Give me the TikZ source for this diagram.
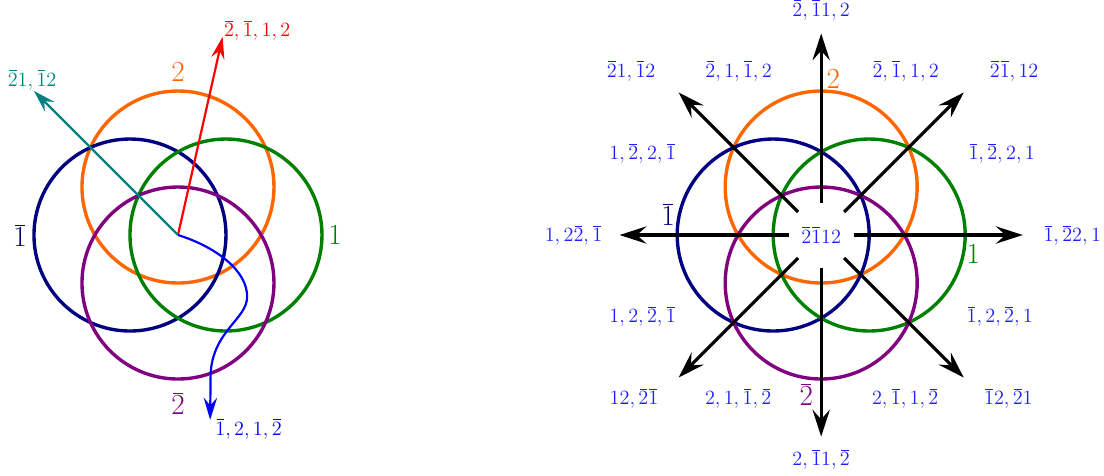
\documentclass[tikz,border=0pt]{standalone}
\usetikzlibrary{arrows.meta}
\definecolor{corange}{RGB}{255,102,0}
\definecolor{cnavy}{RGB}{0,0,128}
\definecolor{cgreen}{RGB}{0,128,0}
\definecolor{cpurple}{RGB}{128,0,128}
\definecolor{cteal}{RGB}{0,128,128}
\definecolor{cblue}{RGB}{30,30,255}
\newcommand{\ob}[1]{\mkern1mu\overline{\mkern-1mu#1\mkern-1mu}\mkern1mu}
\begin{document}
\begin{tikzpicture}[
		ring/.style={line width=2pt},
		ray/.style={line width=1.3pt,-{Stealth[length=4.6mm,width=2.8mm,inset=1.6mm]}},
		bigray/.style={line width=1.9pt,-{Stealth[length=5.6mm,width=3.6mm,inset=2mm]}},
		word/.style={font=\fontsize{11.5}{13}\selectfont,inner sep=1pt},
		tag/.style={font=\fontsize{16}{18}\selectfont,inner sep=1pt}]
	\useasboundingbox (-3.708,-5) rectangle (19.292,4.896);
	% left picture
	\coordinate (L) at (0,0);
	\draw[ring,corange] (0,1) circle (2);
	\draw[ring,cnavy] (-1,0) circle (2);
	\draw[ring,cgreen] (1,0) circle (2);
	\draw[ring,cpurple] (0,-1) circle (2);
	\node[tag,text=corange] (l2) at (0,3.4) {$2$};
	\node[tag,text=cnavy] (l1b) at (-3.29,0) {$\ob1$};
	\node[tag,text=cgreen] (l1) at (3.27,0) {$1$};
	\node[tag,text=cpurple] (l2b) at (0,-3.5) {$\ob2$};
	\coordinate (rtip) at (0.93,4.13);
	\coordinate (ttip) at (-3,3);
	\coordinate (btip) at (0.67,-3.85);
	\draw[ray,red] (L)--(rtip);
	\draw[ray,cteal] (L)--(ttip);
	\draw[ray,blue] (L) .. controls (0.8,-0.25) and (1.45,-0.75) .. (1.44,-1.29)
		.. controls (1.44,-1.75) and (0.72,-2.0) .. (0.68,-2.9) -- (btip);
	\node[word,text=red] (rw) at (1.65,4.27) {$\ob2,\ob1,1,2$};
	\node[word,text=cteal] (tw) at (-3.04,3.23) {$\ob21,\ob12$};
	\node[word,text=blue] (bw) at (1.47,-4.04) {$\ob1,2,1,\ob2$};
	% right picture
	\coordinate (R) at (13.4,0);
	\draw[ring,corange] (13.4,1) circle (2);
	\draw[ring,cnavy] (12.4,0) circle (2);
	\draw[ring,cgreen] (14.4,0) circle (2);
	\draw[ring,cpurple] (13.4,-1) circle (2);
	\node[word,text=cblue,circle,minimum size=1.34cm,inner sep=0pt] (core) at (R) {$\ob2\ob112$};
	\foreach \a in {0,45,...,315} {
		\path (R) ++(\a:4.2) coordinate (t\a);
		\draw[bigray] (core)--(t\a);
	}
	\node[tag,text=corange] (r2) at (13.65,3.25) {$2$};
	\node[tag,text=cnavy] (r1b) at (10.21,0.42) {$\ob1$};
	\node[tag,text=cgreen] (r1) at (16.57,-0.4) {$1$};
	\node[tag,text=cpurple] (r2b) at (13.09,-3.33) {$\ob2$};
	\begin{scope}[shift={(R)},every node/.style={word,text=cblue}]
		\node (w90) at (0,4.69) {$\ob2,\ob11,2$};
		\node (w270) at (0,-4.67) {$2,\ob11,\ob2$};
		\node (w180) at (-5.16,0) {$1,2\ob2,\ob1$};
		\node (w0) at (5.23,0) {$\ob1,\ob22,1$};
		\node (wa) at (-3.96,3.42) {$\ob21,\ob12$};
		\node (wb) at (-1.72,3.42) {$\ob2,1,\ob1,2$};
		\node (wc) at (1.76,3.42) {$\ob2,\ob1,1,2$};
		\node (wd) at (4.02,3.42) {$\ob2\ob1,12$};
		\node (we) at (-3.72,1.7) {$1,\ob2,2,\ob1$};
		\node (wf) at (3.76,1.7) {$\ob1,\ob2,2,1$};
		\node (wg) at (-3.72,-1.7) {$1,2,\ob2,\ob1$};
		\node (wh) at (3.72,-1.7) {$\ob1,2,\ob2,1$};
		\node (wi) at (-3.9,-3.4) {$12,\ob2\ob1$};
		\node (wj) at (-1.73,-3.4) {$2,1,\ob1,\ob2$};
		\node (wk) at (1.75,-3.4) {$2,\ob1,1,\ob2$};
		\node (wl) at (3.9,-3.4) {$\ob12,\ob21$};
	\end{scope}
\end{tikzpicture}
\end{document}
